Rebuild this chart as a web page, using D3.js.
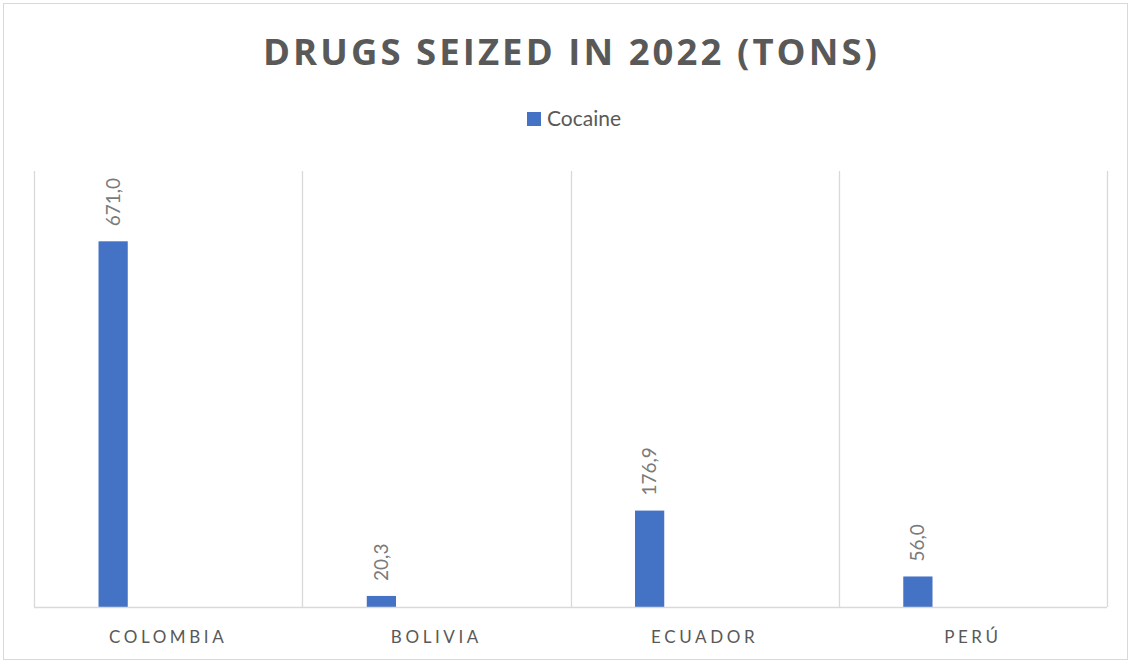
<!DOCTYPE html>
<html>
<head>
<meta charset="utf-8">
<script src="https://cdn.jsdelivr.net/npm/d3@7"></script>
<style>
  html, body { margin: 0; padding: 0; background: #fff; }
  svg { display: block; }
</style>
</head>
<body>
<svg id="chart" width="1132" height="664"></svg>
<script>
// Drugs seized in 2022, tons of cocaine per country
const categories = ["COLOMBIA", "BOLIVIA", "ECUADOR", "PERÚ"];
const cocaine = [671.0, 20.3, 176.9, 56.0];
const seriesName = "Cocaine";
const chartTitle = "DRUGS SEIZED IN 2022 (TONS)";
const yDomain = [0, 800];

const W = 1132, H = 664;
const plot = { left: 34, right: 1107, top: 171, bottom: 607 };
const barColor = "#4472c4";
const gridColor = "#d9d9d9";
const textColor = "#595959";
const fmt = v => v.toFixed(1).replace(".", ",");

const svg = d3.select("#chart");

// chart frame
svg.append("rect")
  .attr("x", 3.5).attr("y", 3.5)
  .attr("width", W - 8).attr("height", H - 8)
  .attr("fill", "#fff").attr("stroke", gridColor).attr("stroke-width", 1);

const x = d3.scaleBand().domain(categories).range([plot.left, plot.right]).padding(0);
const y = d3.scaleLinear().domain(yDomain).range([plot.bottom, plot.top]);

// vertical category separators
const edges = categories.map(c => x(c)).concat([plot.right]);
svg.append("g").selectAll("line").data(edges).join("line")
  .attr("x1", d => Math.round(d) + 0.5).attr("x2", d => Math.round(d) + 0.5)
  .attr("y1", plot.top).attr("y2", plot.bottom)
  .attr("stroke", gridColor).attr("stroke-width", 1.3);

// bars sit in the left part of each category slot
const barOffset = 0.2405, barWidth = 0.109;
const bw = x.bandwidth() * barWidth;
svg.append("g").selectAll("rect").data(categories).join("rect")
  .attr("x", (c) => x(c) + x.bandwidth() * barOffset)
  .attr("y", (c, i) => y(cocaine[i]))
  .attr("width", bw)
  .attr("height", (c, i) => y(0) - y(cocaine[i]))
  .attr("fill", barColor);

// category axis
const xAxis = d3.axisBottom(x).tickSize(0).tickPadding(0);
const gx = svg.append("g").attr("transform", `translate(0,${plot.bottom})`).call(xAxis);
gx.select(".domain").attr("stroke", gridColor).attr("stroke-width", 1.5)
  .attr("d", `M${plot.left},0.5H${plot.right}`);
gx.selectAll(".tick text")
  .attr("y", 36).attr("dy", 0)
  .attr("fill", textColor)
  .style("font-family", "Lato, 'Open Sans', sans-serif")
  .style("font-size", "17px")
  .style("letter-spacing", "3.6px");

// value labels, rotated
svg.append("g").selectAll("text").data(categories).join("text")
  .attr("transform", (c, i) => {
    const cx = x(c) + x.bandwidth() * barOffset + bw / 2 + 6.5;
    const cy = y(cocaine[i]) - 15;
    return `translate(${cx},${cy}) rotate(-90)`;
  })
  .attr("text-anchor", "start")
  .attr("fill", "#7a7a7a")
  .style("font-family", "Lato, 'Open Sans', sans-serif")
  .style("font-size", "19px")
  .text((c, i) => fmt(cocaine[i]));

// title, spaced out to span its width
const titleLeft = 263, titleRight = 877;
const title = svg.append("text")
  .attr("x", titleLeft).attr("y", 65)
  .attr("fill", textColor)
  .style("font-family", "'Open Sans', Lato, sans-serif")
  .style("font-weight", "bold")
  .style("font-size", "36.5px")
  .style("letter-spacing", "0px")
  .text(chartTitle);
const plainLen = title.node().getComputedTextLength();
const spacing = (titleRight - titleLeft - plainLen) / (chartTitle.length - 1);
title.style("letter-spacing", spacing + "px");

// legend
const legend = svg.append("g");
legend.append("rect")
  .attr("x", 527).attr("y", 112).attr("width", 14).attr("height", 14)
  .attr("fill", barColor);
legend.append("text")
  .attr("x", 547).attr("y", 126)
  .attr("fill", textColor)
  .style("font-family", "Lato, 'Open Sans', sans-serif")
  .style("font-size", "21px")
  .text(seriesName);
</script>
</body>
</html>
